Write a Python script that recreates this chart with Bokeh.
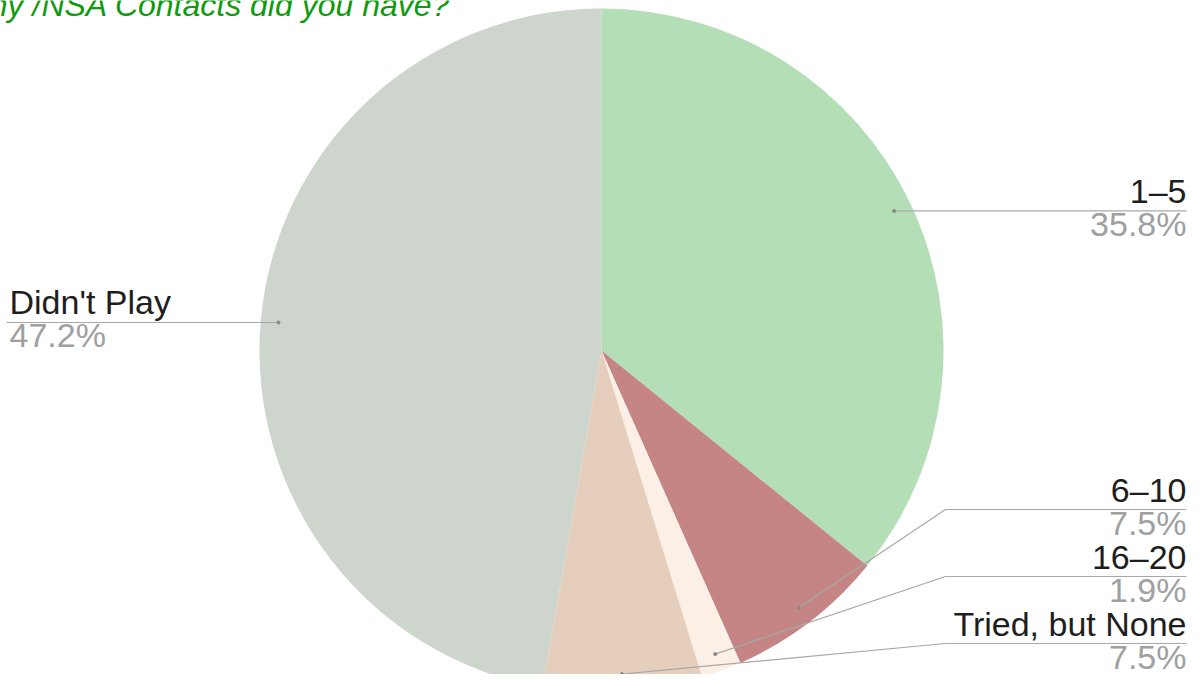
import math
from bokeh.plotting import figure
from bokeh.models import Range1d
from bokeh.core.properties import value
from bokeh.embed import file_html
from bokeh.resources import INLINE

# ---- data ----
categories = ["1\u20135", "6\u201310", "16\u201320", "Tried, but None", "Didn't Play"]
percents = [35.8, 7.5, 1.9, 7.5, 47.2]
colors = ["#b3deb6", "#c58585", "#fcefe5", "#e6cebd", "#cdd5cc"]
title_text = "How many /NSA Contacts did you have?"

# ---- layout (canvas pixels) ----
PW, PH = 1188, 674
cx, cy_s, R = 601, 350, 342
FONT = "Liberation Sans"
BASE_FIX = 14  # svg text baseline correction (px)

def ys(y_screen):
    return PH - y_screen

p = figure(width=PW, height=PH, output_backend="svg", toolbar_location=None,
           x_range=Range1d(0, PW), y_range=Range1d(0, PH),
           min_border=0, outline_line_color=None)
p.axis.visible = False
p.grid.visible = False
p.background_fill_color = "white"
p.border_fill_color = "white"

total = sum(percents)
cum = 0.0
starts, ends, mids = [], [], []
for v in percents:
    a0 = cum / total
    cum += v
    a1 = cum / total
    starts.append(math.pi / 2 - 2 * math.pi * a0)
    ends.append(math.pi / 2 - 2 * math.pi * a1)
    mids.append((a0 + a1) / 2)

p.wedge(x=[cx] * len(percents), y=[ys(cy_s)] * len(percents), radius=R,
        start_angle=starts, end_angle=ends, direction="clock",
        fill_color=colors, line_color=None)

# label layout: (side, horizontal line y on screen or None = dot's y)
label_layout = {
    "1\u20135": ("right", None),
    "6\u201310": ("right", 509),
    "16\u201320": ("right", 576),
    "Tried, but None": ("right", 643),
    "Didn't Play": ("left", None),
}
x_right, x_elbow, x_left = 1186, 945, 6

for cat, v, m in zip(categories, percents, mids):
    ang = 2 * math.pi * m
    dx = 0.948 * R * math.sin(ang)
    dy = 0.948 * R * math.cos(ang)
    px, py = cx + dx, ys(cy_s) + dy
    side, ly = label_layout[cat]
    ly_d = py if ly is None else ys(ly)
    if side == "right":
        if ly is None:
            xs_, yl = [px, x_right], [py, py]
        else:
            xs_, yl = [px, x_elbow, x_right], [py, ly_d, ly_d]
        tx, align = x_right, "right"
    else:
        xs_, yl = [px, x_left], [py, py]
        tx, align = x_left + 3, "left"
    p.line(xs_, yl, line_color="#a8a8a8", line_width=1.2)
    p.scatter([px], [py], size=3, color="#888888")
    p.text([tx], [ly_d + 6 + BASE_FIX], text=[cat], text_align=align,
           text_baseline="alphabetic", text_font=value(FONT),
           text_font_size="34px", text_color="#1e1e1e")
    p.text([tx], [ly_d - 27 + BASE_FIX], text=[f"{v:.1f}%"], text_align=align,
           text_baseline="alphabetic", text_font=value(FONT),
           text_font_size="34px", text_color="#a0a0a0")

p.text([450], [ys(18) + BASE_FIX], text=[title_text], text_align="right",
       text_baseline="alphabetic", text_font=value(FONT), text_font_style="italic",
       text_font_size="32px", text_color="#0f9a0f")

open("out.html", "w").write(file_html(p, INLINE))
